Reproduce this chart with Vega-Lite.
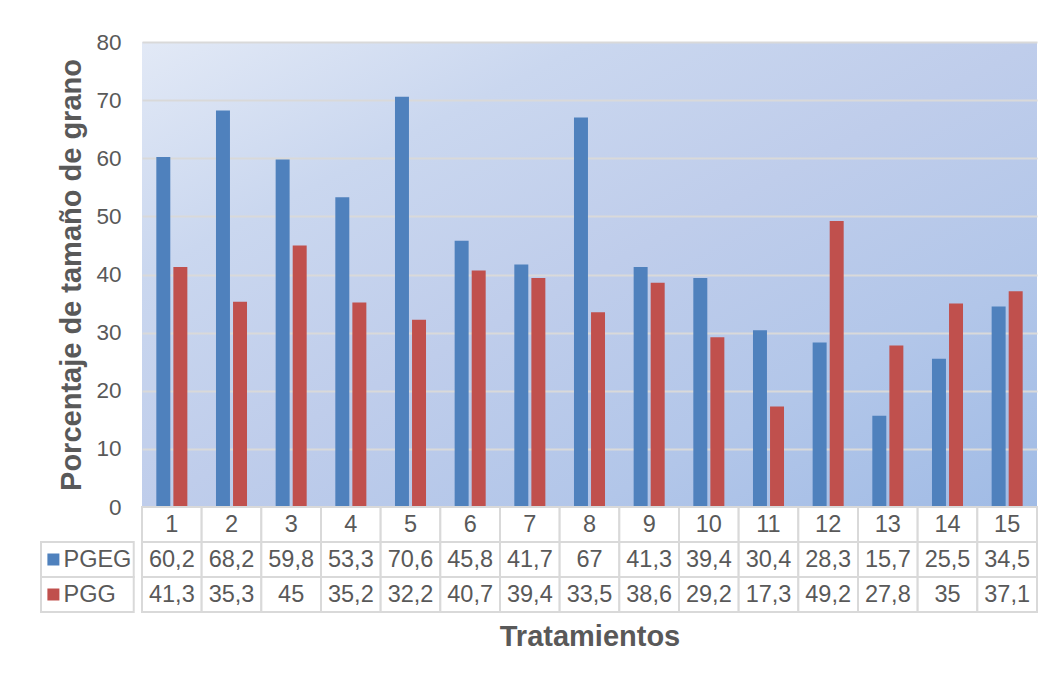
{
  "$schema": "https://vega.github.io/schema/vega-lite/v6.json",
  "padding": {"left": 40, "top": 31, "right": 5, "bottom": 5},
  "background": "white",
  "config": {
    "view": {"stroke": null},
    "font": "Liberation Sans",
    "locale": {"number": {"decimal": ",", "thousands": ".", "grouping": [3], "currency": ["", ""]}}
  },
  "datasets": {
    "d": [
      {"trat": 1, "serie": "PGEG", "value": 60.2},
      {"trat": 2, "serie": "PGEG", "value": 68.2},
      {"trat": 3, "serie": "PGEG", "value": 59.8},
      {"trat": 4, "serie": "PGEG", "value": 53.3},
      {"trat": 5, "serie": "PGEG", "value": 70.6},
      {"trat": 6, "serie": "PGEG", "value": 45.8},
      {"trat": 7, "serie": "PGEG", "value": 41.7},
      {"trat": 8, "serie": "PGEG", "value": 67},
      {"trat": 9, "serie": "PGEG", "value": 41.3},
      {"trat": 10, "serie": "PGEG", "value": 39.4},
      {"trat": 11, "serie": "PGEG", "value": 30.4},
      {"trat": 12, "serie": "PGEG", "value": 28.3},
      {"trat": 13, "serie": "PGEG", "value": 15.7},
      {"trat": 14, "serie": "PGEG", "value": 25.5},
      {"trat": 15, "serie": "PGEG", "value": 34.5},
      {"trat": 1, "serie": "PGG", "value": 41.3},
      {"trat": 2, "serie": "PGG", "value": 35.3},
      {"trat": 3, "serie": "PGG", "value": 45},
      {"trat": 4, "serie": "PGG", "value": 35.2},
      {"trat": 5, "serie": "PGG", "value": 32.2},
      {"trat": 6, "serie": "PGG", "value": 40.7},
      {"trat": 7, "serie": "PGG", "value": 39.4},
      {"trat": 8, "serie": "PGG", "value": 33.5},
      {"trat": 9, "serie": "PGG", "value": 38.6},
      {"trat": 10, "serie": "PGG", "value": 29.2},
      {"trat": 11, "serie": "PGG", "value": 17.3},
      {"trat": 12, "serie": "PGG", "value": 49.2},
      {"trat": 13, "serie": "PGG", "value": 27.8},
      {"trat": 14, "serie": "PGG", "value": 35},
      {"trat": 15, "serie": "PGG", "value": 37.1}
    ]
  },
  "columns": 2,
  "spacing": 0,
  "bounds": "flush",
  "resolve": {"scale": {"x": "independent", "y": "independent", "color": "independent", "xOffset": "independent"}},
  "concat": [
    {
      "width": 101,
      "height": 465,
      "data": {"values": [{"a": 1}]},
      "mark": {"type": "text", "text": ""},
      "encoding": {}
    },
    {
      "width": 895,
      "height": 465,
      "view": {
        "fill": {
          "gradient": "linear", "x1": 0, "y1": 0, "x2": 1, "y2": 1,
          "stops": [
            {"offset": 0, "color": "#e2e9f6"},
            {"offset": 0.25, "color": "#cad7ef"},
            {"offset": 0.5, "color": "#bfcdeb"},
            {"offset": 0.75, "color": "#b2c6e9"},
            {"offset": 1, "color": "#a0bbe5"}
          ]
        }
      },
      "data": {"name": "d"},
      "mark": {"type": "bar"},
      "encoding": {
        "x": {"field": "trat", "type": "ordinal", "scale": {"paddingInner": 0, "paddingOuter": 0}, "axis": null},
        "xOffset": {"field": "serie", "type": "nominal", "scale": {"paddingInner": 0.18, "paddingOuter": 0.84}},
        "y": {
          "field": "value", "type": "quantitative",
          "scale": {"domain": [0, 80]},
          "axis": {
            "title": "Porcentaje de tamaño de grano",
            "values": [0, 10, 20, 30, 40, 50, 60, 70, 80],
            "domain": false, "ticks": false,
            "grid": true, "gridColor": "#d9d9d9", "gridWidth": 2,
            "labelFontSize": 22.5, "labelColor": "#595959", "labelPadding": 21,
            "labelFont": "Liberation Sans",
            "titleFontSize": 29, "titleFontWeight": "bold", "titleColor": "#595959",
            "titleFont": "Liberation Sans", "titlePadding": 9
          }
        },
        "color": {
          "field": "serie", "type": "nominal",
          "scale": {"domain": ["PGEG", "PGG"], "range": ["#4f81bd", "#c0504d"]},
          "legend": null
        }
      }
    },
    {
      "width": 101,
      "height": 105,
      "data": {"name": "d"},
      "transform": [{"filter": "datum.trat == 1"}],
      "encoding": {
        "y": {"field": "serie", "type": "ordinal", "scale": {"domain": ["T", "PGEG", "PGG"], "paddingInner": 0, "paddingOuter": 0}, "axis": null}
      },
      "layer": [
        {
          "mark": {"type": "rect", "fill": "white", "stroke": "#d9d9d9", "strokeWidth": 2},
          "encoding": {
            "x": {"datum": 0, "type": "quantitative", "scale": {"domain": [0, 101]}, "axis": null},
            "x2": {"datum": 101}
          }
        },
        {
          "mark": {"type": "point", "shape": "square", "filled": true, "size": 144, "opacity": 1},
          "encoding": {
            "x": {"datum": 13.5, "type": "quantitative"},
            "color": {
              "field": "serie", "type": "nominal",
              "scale": {"domain": ["PGEG", "PGG"], "range": ["#4f81bd", "#c0504d"]},
              "legend": null
            }
          }
        },
        {
          "mark": {"type": "text", "align": "left", "baseline": "middle", "fontSize": 23.5, "color": "#595959", "font": "Liberation Sans"},
          "encoding": {
            "x": {"datum": 24.5, "type": "quantitative"},
            "text": {"field": "serie"}
          }
        }
      ]
    },
    {
      "width": 895,
      "height": 105,
      "data": {"name": "d"},
      "encoding": {
        "x": {
          "field": "trat", "type": "ordinal",
          "scale": {"paddingInner": 0, "paddingOuter": 0},
          "axis": {
            "title": "Tratamientos", "labels": false, "ticks": false, "domain": false,
            "titleFontSize": 29, "titleFontWeight": "bold", "titleColor": "#595959",
            "titleFont": "Liberation Sans", "titlePadding": 10
          }
        }
      },
      "layer": [
        {
          "transform": [{"filter": "datum.serie == 'PGEG'"}],
          "mark": {"type": "rect", "fill": "white", "stroke": "#d9d9d9", "strokeWidth": 2},
          "encoding": {
            "y": {"datum": "T", "type": "ordinal", "scale": {"domain": ["T", "PGEG", "PGG"], "paddingInner": 0, "paddingOuter": 0}, "axis": null}
          }
        },
        {
          "mark": {"type": "rect", "fill": "white", "stroke": "#d9d9d9", "strokeWidth": 2},
          "encoding": {
            "y": {"field": "serie", "type": "ordinal"}
          }
        },
        {
          "transform": [{"filter": "datum.serie == 'PGEG'"}],
          "mark": {"type": "text", "baseline": "middle", "fontSize": 23.5, "color": "#595959", "font": "Liberation Sans"},
          "encoding": {
            "y": {"datum": "T", "type": "ordinal"},
            "text": {"field": "trat", "type": "nominal"}
          }
        },
        {
          "mark": {"type": "text", "baseline": "middle", "fontSize": 23.5, "color": "#595959", "font": "Liberation Sans"},
          "encoding": {
            "y": {"field": "serie", "type": "ordinal"},
            "text": {"field": "value", "type": "quantitative", "format": ".1~f"}
          }
        }
      ]
    }
  ]
}
